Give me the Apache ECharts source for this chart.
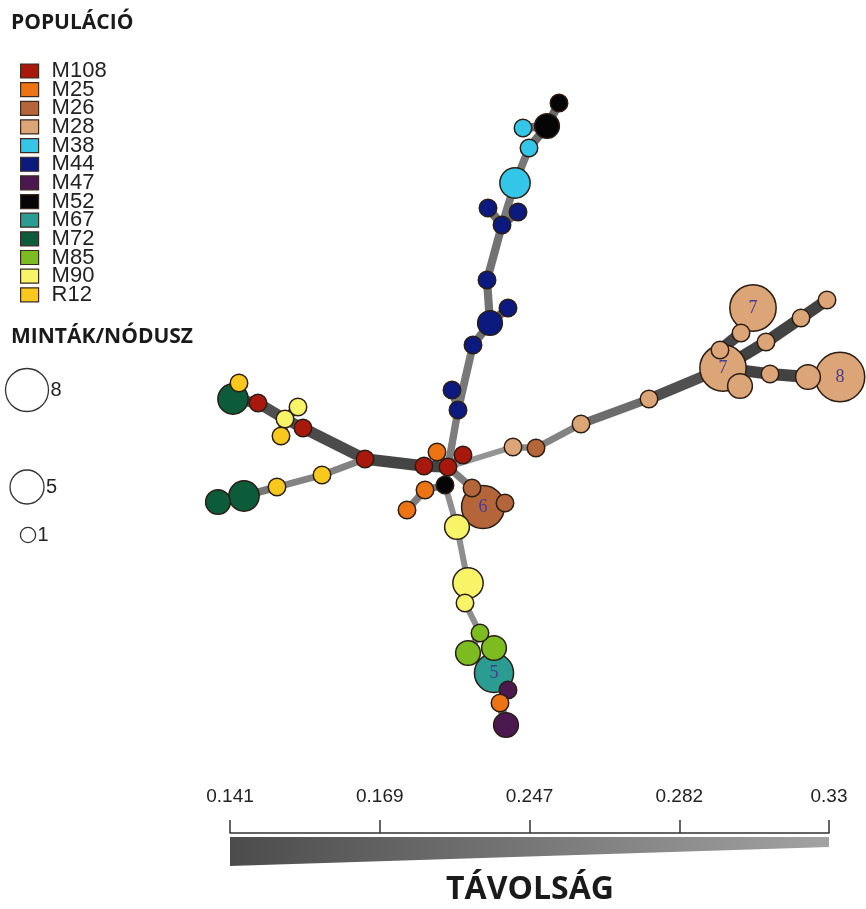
<!DOCTYPE html>
<html>
<head>
<meta charset="utf-8">
<script src="https://cdn.jsdelivr.net/npm/echarts@6/dist/echarts.min.js"></script>
<style>
  html, body { margin: 0; padding: 0; background: #fff; }
  #main { width: 866px; height: 909px; }
</style>
</head>
<body>
<div id="main"></div>
<script>
// populations and their colours
const populations = ['M108', 'M25', 'M26', 'M28', 'M38', 'M44', 'M47', 'M52', 'M67', 'M72', 'M85', 'M90', 'R12'];
const popColors = ['#a8180c', '#ec7414', '#b4663a', '#dca578', '#34c6e8', '#0c1a80', '#4c1850', '#050505', '#2a9c92', '#0c5c3c', '#7cbc20', '#f8f468', '#f8c81c'];

// network nodes (position, samples per node, population)
const nodeX = [723, 753, 840, 483, 494, 233, 244, 218, 515, 468, 490, 547, 506, 468, 494, 457, 808, 740,
  448, 424, 463, 437, 445, 425, 407, 472, 505, 513, 536, 581, 649, 720, 741, 766, 801, 827, 770,
  365, 303, 285, 298, 258, 239, 281, 322, 277,
  458, 452, 473, 508, 487, 502, 488, 518, 529, 523, 559, 465, 480, 508, 500];
const nodeY = [368, 308, 377, 507, 673, 399, 496, 502, 183, 583, 323, 126, 725, 653, 648, 527, 377, 386,
  467, 466, 455, 452, 485, 490, 510, 488, 503, 447, 448, 424, 399, 350, 333, 342, 318, 300, 374,
  459, 428, 419, 407, 403, 383, 436, 475, 487,
  410, 390, 345, 308, 280, 225, 208, 212, 148, 128, 103, 603, 633, 690, 703];
const nodeCount = [7, 7, 8, 6, 5, 3, 3, 2, 3, 3, 2, 2, 2, 2, 2, 2, 2, 2,
  1, 1, 1, 1, 1, 1, 1, 1, 1, 1, 1, 1, 1, 1, 1, 1, 1, 1, 1,
  1, 1, 1, 1, 1, 1, 1, 1, 1,
  1, 1, 1, 1, 1, 1, 1, 1, 1, 1, 1, 1, 1, 1, 1];
const nodePop = ['M28', 'M28', 'M28', 'M26', 'M67', 'M72', 'M72', 'M72', 'M38', 'M90', 'M44', 'M52', 'M47', 'M85', 'M85', 'M90', 'M28', 'M28',
  'M108', 'M108', 'M108', 'M25', 'M52', 'M25', 'M25', 'M26', 'M26', 'M28', 'M26', 'M28', 'M28', 'M28', 'M28', 'M28', 'M28', 'M28', 'M28',
  'M108', 'M108', 'M90', 'M90', 'M108', 'R12', 'R12', 'R12', 'R12',
  'M44', 'M44', 'M44', 'M44', 'M44', 'M44', 'M44', 'M44', 'M38', 'M38', 'M52', 'M90', 'M85', 'M47', 'M25'];

// network edges and their distance
const linkFrom = [18, 19, 37, 38, 39, 41, 42, 40, 43, 37, 44, 45, 6,
  18, 18, 18, 22, 23, 18, 25, 3,
  18, 27, 28, 29, 30, 0, 31, 32, 0, 33, 34, 0, 36, 16, 0,
  18, 46, 46, 48, 10, 10, 50, 51, 51, 51, 8, 54, 11, 11,
  22, 15, 9, 57, 58, 58, 14, 4, 59, 60];
const linkTo = [19, 37, 38, 39, 41, 5, 5, 39, 39, 44, 45, 6, 7,
  21, 20, 22, 23, 24, 25, 3, 26,
  27, 28, 29, 30, 0, 31, 32, 1, 33, 34, 35, 36, 16, 2, 17,
  46, 47, 48, 10, 49, 50, 51, 52, 53, 8, 54, 11, 55, 56,
  15, 9, 57, 58, 13, 14, 4, 59, 60, 12];
const linkDist = [0.15, 0.15, 0.16, 0.17, 0.17, 0.17, 0.2, 0.2, 0.2, 0.26, 0.26, 0.24, 0.2,
  0.25, 0.25, 0.24, 0.25, 0.25, 0.25, 0.2, 0.2,
  0.29, 0.27, 0.26, 0.22, 0.17, 0.15, 0.15, 0.15, 0.145, 0.145, 0.145, 0.145, 0.145, 0.145, 0.16,
  0.25, 0.24, 0.24, 0.23, 0.22, 0.23, 0.23, 0.22, 0.22, 0.24, 0.24, 0.22, 0.22, 0.22,
  0.28, 0.28, 0.27, 0.28, 0.25, 0.25, 0.2, 0.2, 0.22, 0.22];

// distance scale ticks and size legend
const distTicks = ['0.141', '0.169', '0.247', '0.282', '0.33'];
const sizeLegend = [8, 5, 1];

const dMin = 0.141, dMax = 0.33;
function edgeT(d) { return Math.min(1, Math.max(0, (d - dMin) / (dMax - dMin))); }
function edgeWidth(d) { return 12 - edgeT(d) * 8; }
function edgeColor(d) {
    const g = Math.round(64 + edgeT(d) * 106);
    return 'rgb(' + g + ',' + g + ',' + g + ')';
}
function nodeDiam(n) { return 17.5 * Math.sqrt(n); }

const nodes = nodeX.map((x, i) => ({
    name: 'n' + i,
    value: [x, nodeY[i]],
    category: populations.indexOf(nodePop[i]),
    symbolSize: nodeDiam(nodeCount[i]),
    label: { show: nodeCount[i] >= 5, formatter: String(nodeCount[i]) }
}));

const links = linkFrom.map((f, i) => ({
    source: 'n' + f,
    target: 'n' + linkTo[i],
    lineStyle: { width: edgeWidth(linkDist[i]), color: edgeColor(linkDist[i]) }
}));

// size legend circles
const sizeGraphics = [];
const sizeY = [390, 487, 535];
sizeLegend.forEach((n, i) => {
    const r = 7.6 * Math.sqrt(n);
    const cx = n === 1 ? 28 : 27;
    sizeGraphics.push({
        type: 'circle', shape: { cx: cx, cy: sizeY[i], r: r },
        style: { fill: '#fff', stroke: '#333', lineWidth: 1.3 }
    });
    sizeGraphics.push({
        type: 'text', x: cx + r + 2, y: sizeY[i],
        style: { text: String(n), fill: '#222', font: '20px "Liberation Sans"', verticalAlign: 'middle' }
    });
});

const titleFont = { fontFamily: 'Open Sans', fontWeight: 'bold', color: '#1a1a1a' };

const option = {
    animation: false,
    backgroundColor: '#fff',
    title: [
        { text: 'POPULÁCIÓ', left: 11, top: 13, padding: 0, textStyle: Object.assign({ fontSize: 21 }, titleFont) },
        { text: 'MINTÁK/NÓDUSZ', left: 11, top: 327, padding: 0, textStyle: Object.assign({ fontSize: 21 }, titleFont) }
    ],
    legend: {
        orient: 'vertical',
        left: 20,
        top: 60,
        padding: 0,
        icon: 'rect',
        itemWidth: 18,
        itemHeight: 14,
        itemGap: -3.35,
        selectedMode: false,
        data: populations,
        itemStyle: { borderColor: '#3a2a20', borderWidth: 1.2 },
        textStyle: { fontFamily: 'Liberation Sans', fontSize: 22, color: '#222', padding: [0, 0, 0, 8] }
    },
    grid: [
        { left: 0, top: 0, right: 0, bottom: 0 },
        { left: 230, width: 599, top: 833, height: 32 }
    ],
    xAxis: [
        { type: 'value', gridIndex: 0, min: 0, max: 866, show: false },
        {
            type: 'category', gridIndex: 1, data: distTicks, boundaryGap: false, position: 'top',
            axisLine: { onZero: false, lineStyle: { color: '#333', width: 1.5 } },
            axisTick: { length: 13, interval: 0, lineStyle: { color: '#333', width: 1.5 } },
            axisLabel: { interval: 0, margin: 27, color: '#222', fontFamily: 'Liberation Sans', fontSize: 19 },
            splitLine: { show: false }
        }
    ],
    yAxis: [
        { type: 'value', gridIndex: 0, min: 0, max: 909, inverse: true, show: false },
        { type: 'value', gridIndex: 1, min: 0, max: 1, show: false }
    ],
    graphic: [
        {
            type: 'polygon',
            shape: { points: [[230, 837], [829, 837], [829, 847], [230, 866]] },
            style: {
                fill: {
                    type: 'linear', x: 0, y: 0, x2: 1, y2: 0,
                    colorStops: [{ offset: 0, color: '#4c4c4c' }, { offset: 1, color: '#a2a2a2' }]
                }
            }
        },
        {
            type: 'text', x: 530, y: 890,
            style: { text: 'TÁVOLSÁG', fill: '#1a1a1a', font: 'bold 32px "Open Sans"', align: 'center', verticalAlign: 'middle' }
        }
    ].concat(sizeGraphics),
    series: [
        {
            type: 'graph',
            coordinateSystem: 'cartesian2d',
            xAxisIndex: 0,
            yAxisIndex: 0,
            symbol: 'circle',
            categories: populations.map((p, i) => ({ name: p, itemStyle: { color: popColors[i] } })),
            data: nodes,
            links: links,
            itemStyle: { borderColor: '#2a1d14', borderWidth: 1.5 },
            lineStyle: { opacity: 1, curveness: 0 },
            label: { position: 'inside', color: '#4b3b8f', fontFamily: 'Liberation Serif', fontSize: 18 },
            emphasis: { disabled: true }
        }
    ]
};

const myChart = echarts.init(document.getElementById('main'));
myChart.setOption(option);
</script>
</body>
</html>
